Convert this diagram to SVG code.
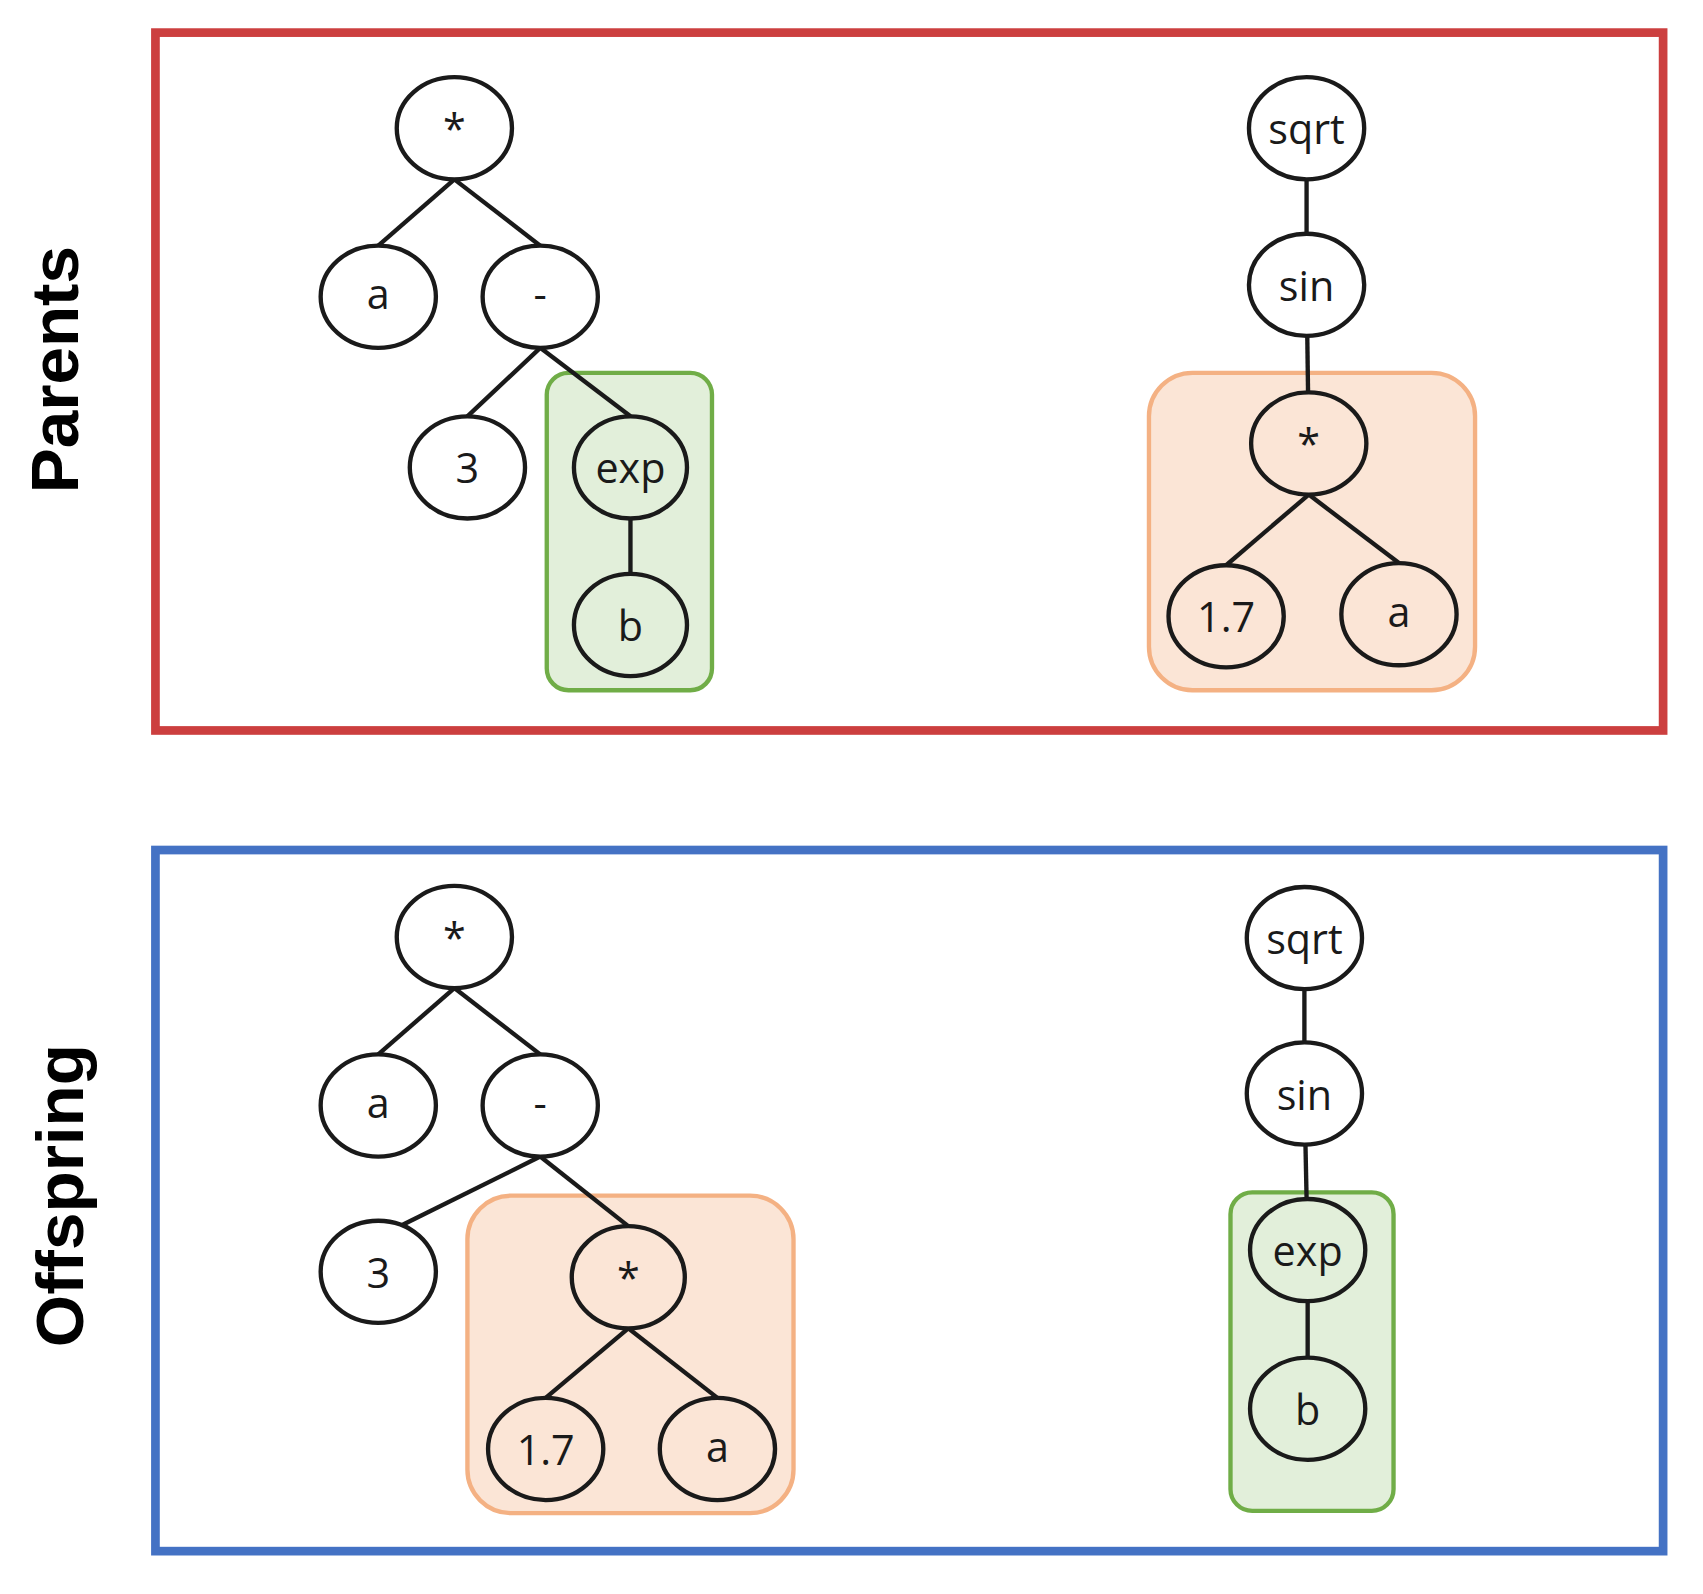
<svg xmlns="http://www.w3.org/2000/svg" width="1703" height="1594" viewBox="0 0 1703 1594">
<style>
.n{stroke:#1a1a1a;stroke-width:4}
.w{fill:#fff}.g{fill:#E2EFDA}.o{fill:#FBE5D6}
.t{font-family:"Open Sans","Liberation Sans",sans-serif;font-size:38px;text-anchor:middle;dominant-baseline:central;fill:#1a1a1a}
.e{stroke:#1a1a1a;stroke-width:4}
.lab{font-family:"Liberation Sans",sans-serif;font-weight:bold;font-size:62px;text-anchor:middle;dominant-baseline:central}
</style>
<rect width="1703" height="1594" fill="#fff"/>
<g transform="scale(1.087)">
<rect x="143" y="30" width="1387" height="642" fill="none" stroke="#CC3F3F" stroke-width="8"/>
<rect x="143" y="782" width="1387" height="645" fill="none" stroke="#4472C4" stroke-width="8"/>
<text class="lab" transform="translate(50,340) rotate(-90)">Parents</text>
<text class="lab" transform="translate(55,1100) rotate(-90)">Offspring</text>
<rect x="503" y="343" width="152" height="292" rx="20" fill="#E2EFDA" stroke="#70AD47" stroke-width="4"/>
<rect x="1057" y="343" width="300" height="292" rx="40" fill="#FBE5D6" stroke="#F4B183" stroke-width="4"/>
<rect x="430" y="1100" width="300" height="292" rx="40" fill="#FBE5D6" stroke="#F4B183" stroke-width="4"/>
<rect x="1132" y="1097" width="150" height="293" rx="20" fill="#E2EFDA" stroke="#70AD47" stroke-width="4"/>
<g id="connectors" class="e">
<line x1="418" y1="165" x2="348" y2="226"/><line x1="418" y1="165" x2="497" y2="226"/>
<line x1="497" y1="320" x2="430" y2="383"/><line x1="497" y1="320" x2="580" y2="383"/>
<line x1="580" y1="430" x2="580" y2="575"/>
<line x1="1202" y1="118" x2="1202" y2="262"/><line x1="1202" y1="262" x2="1204" y2="408"/>
<line x1="1204" y1="455" x2="1128" y2="520"/><line x1="1204" y1="455" x2="1287" y2="518"/>
<line x1="418" y1="909" x2="348" y2="970"/><line x1="418" y1="909" x2="497" y2="970"/>
<line x1="497" y1="1064" x2="370" y2="1127"/><line x1="497" y1="1064" x2="578" y2="1128"/>
<line x1="578" y1="1222" x2="502" y2="1286"/><line x1="578" y1="1222" x2="660" y2="1286"/>
<line x1="1200" y1="863" x2="1200" y2="1006"/><line x1="1200" y1="1006" x2="1203" y2="1150"/>
<line x1="1203" y1="1150" x2="1203" y2="1296"/>
</g>
<g id="p1"><ellipse class="n w" cx="418" cy="118" rx="53" ry="47"/><text class="t" x="418" y="118">*</text></g>
<g id="p2"><ellipse class="n w" cx="348" cy="273" rx="53" ry="47"/><text class="t" x="348" y="270">a</text></g>
<g id="p3"><ellipse class="n w" cx="497" cy="273" rx="53" ry="47"/><text class="t" x="497" y="270">-</text></g>
<g id="p4"><ellipse class="n w" cx="430" cy="430" rx="53" ry="47"/><text class="t" x="430" y="430">3</text></g>
<g id="p5"><ellipse class="n g" cx="580" cy="430" rx="52" ry="47"/><text class="t" x="580" y="430">exp</text></g>
<g id="p6"><ellipse class="n g" cx="580" cy="575" rx="52" ry="47"/><text class="t" x="580" y="575">b</text></g>
<g id="q1"><ellipse class="n w" cx="1202" cy="118" rx="53" ry="47"/><text class="t" x="1202" y="118">sqrt</text></g>
<g id="q2"><ellipse class="n w" cx="1202" cy="262" rx="53" ry="47"/><text class="t" x="1202" y="262">sin</text></g>
<g id="q3"><ellipse class="n o" cx="1204" cy="408" rx="53" ry="47"/><text class="t" x="1204" y="408">*</text></g>
<g id="q4"><ellipse class="n o" cx="1128" cy="567" rx="53" ry="47"/><text class="t" x="1128" y="567">1.7</text></g>
<g id="q5"><ellipse class="n o" cx="1287" cy="565" rx="53" ry="47"/><text class="t" x="1287" y="562">a</text></g>
<g id="r1"><ellipse class="n w" cx="418" cy="862" rx="53" ry="47"/><text class="t" x="418" y="862">*</text></g>
<g id="r2"><ellipse class="n w" cx="348" cy="1017" rx="53" ry="47"/><text class="t" x="348" y="1014">a</text></g>
<g id="r3"><ellipse class="n w" cx="497" cy="1017" rx="53" ry="47"/><text class="t" x="497" y="1014">-</text></g>
<g id="r4"><ellipse class="n w" cx="348" cy="1170" rx="53" ry="47"/><text class="t" x="348" y="1170">3</text></g>
<g id="r5"><ellipse class="n o" cx="578" cy="1175" rx="52" ry="47"/><text class="t" x="578" y="1175">*</text></g>
<g id="r6"><ellipse class="n o" cx="502" cy="1333" rx="53" ry="47"/><text class="t" x="502" y="1333">1.7</text></g>
<g id="r7"><ellipse class="n o" cx="660" cy="1333" rx="53" ry="47"/><text class="t" x="660" y="1330">a</text></g>
<g id="s1"><ellipse class="n w" cx="1200" cy="863" rx="53" ry="47"/><text class="t" x="1200" y="863">sqrt</text></g>
<g id="s2"><ellipse class="n w" cx="1200" cy="1006" rx="53" ry="47"/><text class="t" x="1200" y="1006">sin</text></g>
<g id="s3"><ellipse class="n g" cx="1203" cy="1150" rx="53" ry="47"/><text class="t" x="1203" y="1150">exp</text></g>
<g id="s4"><ellipse class="n g" cx="1203" cy="1296" rx="53" ry="47"/><text class="t" x="1203" y="1296">b</text></g>
</g>
</svg>
